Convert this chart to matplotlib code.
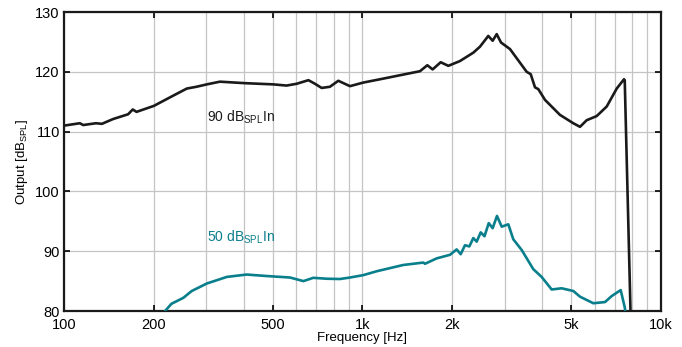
import numpy as np
import matplotlib
matplotlib.use('Agg')
import matplotlib.pyplot as plt
from matplotlib.ticker import FixedLocator, NullFormatter

plt.rcParams['font.family'] = ['Liberation Sans', 'DejaVu Sans']
plt.rcParams['mathtext.default'] = 'regular'

# 90 dB SPL input response
freq_90 = [100, 113, 116, 128, 134, 146, 164, 170, 175, 200, 232, 258, 278, 301, 333,
           404, 502, 557, 602, 659, 693, 730, 778, 830, 908, 1006, 1144, 1558, 1649,
           1718, 1828, 1939, 2121, 2351, 2475, 2639, 2730, 2816, 2911, 3120, 3548,
           3661, 3784, 3882, 4088, 4587, 5084, 5354, 5636, 6090, 6580, 7107, 7516,
           7560, 7950]
out_90 = [111.0, 111.4, 111.1, 111.4, 111.3, 112.1, 112.9, 113.7, 113.3, 114.3, 116.0,
          117.2, 117.5, 117.9, 118.35, 118.1, 117.9, 117.7, 118.0, 118.6, 118.0, 117.3,
          117.5, 118.5, 117.6, 118.2, 118.75, 120.1, 121.1, 120.4, 121.6, 121.0, 121.8,
          123.2, 124.2, 126.0, 125.2, 126.3, 124.9, 123.8, 120.0, 119.6, 117.4, 117.1,
          115.3, 112.8, 111.4, 110.8, 111.9, 112.6, 114.2, 117.2, 118.75, 118.6, 75.0]

# 50 dB SPL input response
freq_50 = [219, 229, 251, 268, 301, 351, 409, 478, 572, 634, 684, 759, 840, 908, 1006,
           1116, 1370, 1598, 1620, 1772, 1964, 2068, 2133, 2205, 2280, 2351, 2413, 2489,
           2563, 2648, 2730, 2822, 2927, 3080, 3200, 3415, 3734, 3983, 4303, 4648, 5084,
           5354, 5934, 6494, 6837, 7328, 7570, 7700]
out_50 = [80.1, 81.2, 82.2, 83.35, 84.6, 85.7, 86.1, 85.85, 85.6, 85.0, 85.55, 85.4,
          85.35, 85.6, 86.0, 86.65, 87.7, 88.1, 87.9, 88.8, 89.4, 90.3, 89.5, 91.0, 90.8,
          92.2, 91.6, 93.15, 92.5, 94.7, 93.85, 95.9, 94.1, 94.5, 92.0, 90.2, 87.0, 85.7,
          83.6, 83.8, 83.35, 82.4, 81.3, 81.5, 82.5, 83.5, 80.5, 76.0]

x_ticks = [100, 200, 500, 1000, 2000, 5000, 10000]
x_ticklabels = ['100', '200', '500', '1k', '2k', '5k', '10k']
y_ticks = [80, 90, 100, 110, 120, 130]

teal = '#0a7f8c'

fig = plt.figure(figsize=(6.82, 3.47), dpi=100)
ax = fig.add_axes([0.0938, 0.1037, 0.8754, 0.8617])

ax.plot(freq_50, out_50, color=teal, lw=1.9, solid_joinstyle='round', zorder=3)
ax.plot(freq_90, out_90, color='#1a1a1a', lw=1.9, solid_joinstyle='round', zorder=4)

ax.set_xscale('log')
ax.set_xlim(100, 10000)
ax.set_ylim(80, 130)

minor = [m * d for d in (100, 1000) for m in range(2, 10)]
ax.xaxis.set_major_locator(FixedLocator(x_ticks))
ax.set_xticklabels(x_ticklabels)
ax.xaxis.set_minor_locator(FixedLocator(minor))
ax.xaxis.set_minor_formatter(NullFormatter())
ax.set_yticks(y_ticks)

ax.grid(True, which='both', axis='x', color='#c4c4c4', lw=0.9)
ax.grid(True, which='major', axis='y', color='#c4c4c4', lw=0.9)
ax.set_axisbelow(True)

ax.tick_params(which='major', direction='in', length=4, width=1.2,
               top=True, right=True, labelsize=10.5)
ax.tick_params(axis='x', pad=5)
ax.tick_params(axis='y', pad=3)
ax.tick_params(which='minor', length=0)
for s in ax.spines.values():
    s.set_linewidth(1.6)
    s.set_color('#1a1a1a')

ax.set_xlabel('Frequency [Hz]', fontsize=9.5, labelpad=0)
ax.set_ylabel('Output [dB$_{SPL}$]', fontsize=9.5, labelpad=4)

ax.text(301, 111.6, '90 dB$_{SPL}$In', color='#1a1a1a', fontsize=10, va='baseline')
ax.text(301, 91.6, '50 dB$_{SPL}$In', color=teal, fontsize=10, va='baseline')

fig.savefig('out.png', dpi=100)
